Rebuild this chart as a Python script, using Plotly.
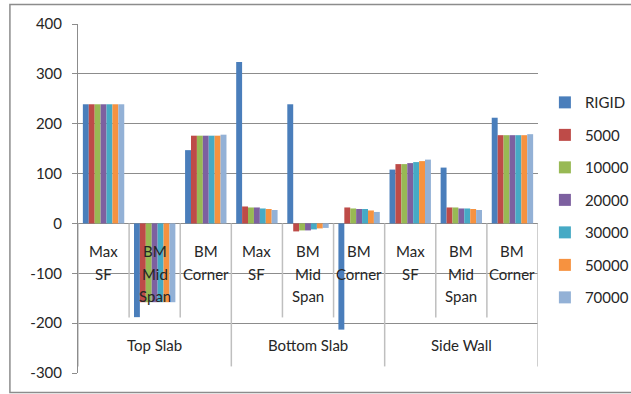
import plotly.graph_objects as go

# Category structure: three members, three quantities each
groups = ["Top Slab", "Bottom Slab", "Side Wall"]
subcategories = ["Max SF", "BM Mid Span", "BM Corner"]

# Series (support stiffness) and their values per category
series_names = ["RIGID", "5000", "10000", "20000", "30000", "50000", "70000"]
rigid = [239, -188, 147, 324, 239, -213, 108, 112, 212]
k5000 = [239, -158, 176, 34, -16, 32, 119, 32, 177]
k10000 = [239, -158, 176, 32, -14, 30, 119, 32, 177]
k20000 = [239, -158, 176, 32, -14, 29, 121, 30, 177]
k30000 = [239, -158, 176, 30, -12, 29, 123, 30, 177]
k50000 = [239, -158, 176, 29, -10, 26, 125, 29, 177]
k70000 = [239, -158, 178, 27, -9, 23, 128, 27, 179]

y_ticks = [-300, -200, -100, 0, 100, 200, 300, 400]
y_tick_labels = ["-300", "-200", "-100", "0", "100", "200", "300", "400"]

colors = ["#4A7EBB", "#BE4B48", "#98B954", "#7D60A0", "#46AAC5", "#F69240", "#93B1D6"]
values = [rigid, k5000, k10000, k20000, k30000, k50000, k70000]

n_sub = len(subcategories)
positions = list(range(len(groups) * n_sub))

FONT = "Lato"
TEXT_COLOR = "#262626"
GRID = "#8C8C8C"
DIVIDER = "#BFBFBF"

fig = go.Figure()
for name, vals, col in zip(series_names, values, colors):
    fig.add_trace(go.Bar(
        x=positions, y=vals, name=name,
        marker=dict(color=col, line=dict(width=0)),
        legendgroup=name,
    ))

annotations = []
shapes = []

# Category labels below the zero line, one word per line
for g, grp in enumerate(groups):
    for s, sub in enumerate(subcategories):
        idx = g * n_sub + s
        for k, word in enumerate(sub.split(" ")):
            annotations.append(dict(
                x=idx, y=0, xref="x", yref="y", text=word, showarrow=False,
                yanchor="middle", yshift=-28 - 22.5 * k,
                font=dict(family=FONT, size=15, color=TEXT_COLOR),
            ))
    annotations.append(dict(
        x=g * n_sub + (n_sub - 1) / 2, y=0, xref="x", yref="y", text=grp,
        showarrow=False, yanchor="middle", yshift=-122,
        font=dict(family=FONT, size=15, color=TEXT_COLOR),
    ))

# Dividers between categories and between groups
for b in range(len(positions) + 1):
    xb = b - 0.5
    is_group = b % n_sub == 0
    shapes.append(dict(
        type="line", xref="x", yref="y", ysizemode="pixel", yanchor=0,
        x0=xb, x1=xb, y0=0, y1=-(143 if is_group else 94),
        line=dict(color=DIVIDER, width=1.5),
    ))

# Chart frame
shapes.append(dict(
    type="rect", xref="paper", yref="paper",
    x0=-0.148, x1=1.3, y0=-0.056, y1=1.056,
    line=dict(color="#8C8C8C", width=1.5), layer="below",
))

fig.update_layout(
    width=631, height=394,
    margin=dict(l=78, r=93, t=24, b=21, autoexpand=False),
    paper_bgcolor="white", plot_bgcolor="white",
    barmode="group", bargap=0.19, bargroupgap=0,
    font=dict(family=FONT, size=15, color=TEXT_COLOR),
    showlegend=True,
    legend=dict(
        x=1.015, xanchor="left", y=0.822, yanchor="top",
        font=dict(family=FONT, size=15, color=TEXT_COLOR),
        tracegroupgap=10, bgcolor="rgba(0,0,0,0)",
    ),
    xaxis=dict(
        range=[-0.5, len(positions) - 0.5], showticklabels=False,
        showgrid=False, zeroline=False, showline=False, ticks="",
    ),
    yaxis=dict(
        range=[-300, 400], tickvals=y_ticks, ticktext=y_tick_labels,
        ticks="outside", ticklen=5,
        tickcolor=GRID, showline=True, linecolor=GRID, linewidth=1,
        showgrid=True, gridcolor=GRID, gridwidth=1,
        zeroline=True, zerolinecolor=GRID, zerolinewidth=1,
        ticklabelstandoff=7,
        tickfont=dict(family=FONT, size=15, color=TEXT_COLOR),
    ),
    annotations=annotations, shapes=shapes,
)

fig.write_html("out.html")
